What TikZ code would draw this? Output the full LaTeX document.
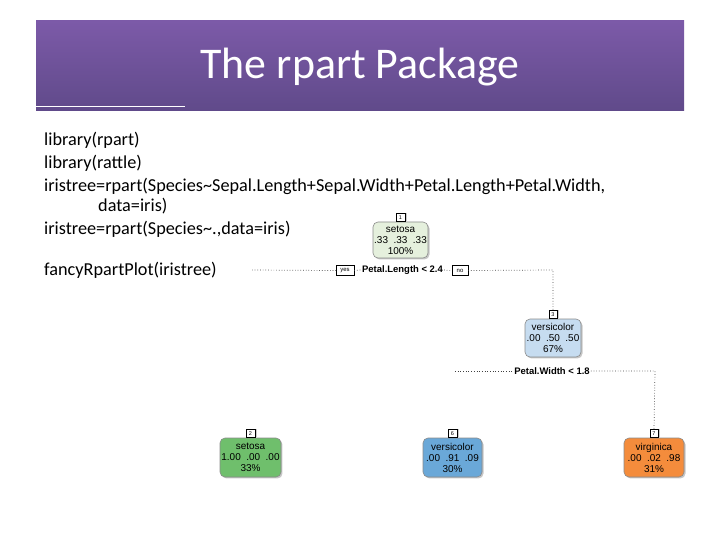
\documentclass[tikz,border=0pt]{standalone}
\usepackage{fontspec}
\setmainfont{Carlito}
\newfontfamily\arialf{Liberation Sans}
\usetikzlibrary{shadows}
\definecolor{titletop}{HTML}{7C5AA8}
\definecolor{titlebot}{HTML}{604A8A}
\definecolor{nonecol}{HTML}{E5F0DD}
\definecolor{nthreecol}{HTML}{C6DCF0}
\definecolor{ntwocol}{HTML}{6FBF6C}
\definecolor{nsixcol}{HTML}{6AA8D8}
\definecolor{nsevencol}{HTML}{F48C3C}
\definecolor{edgegray}{HTML}{8A8A8A}
\tikzset{
  codeline/.style={anchor=base west, inner sep=0pt, font=\fontsize{18.3}{20}\selectfont},
  tnode/.style={draw=edgegray, line width=0.6pt, rounded corners=5pt, align=center,
    inner sep=1pt, font=\arialf\fontsize{10}{11}\selectfont,
    drop shadow={shadow xshift=1.5pt, shadow yshift=-1.5pt, opacity=0.45, fill=gray}},
  numbox/.style={draw=black, fill=white, line width=0.5pt, inner sep=0pt,
    minimum width=8.5bp, minimum height=8.5bp, font=\arialf\fontsize{5.5}{6}\selectfont,
    drop shadow={shadow xshift=2pt, shadow yshift=0pt, opacity=0.4, fill=gray}},
  ynbox/.style={draw=black, fill=white, line width=0.5pt, inner sep=0pt,
    minimum height=10bp, font=\arialf\fontsize{6}{7}\selectfont},
  splitlab/.style={inner sep=1pt, font=\arialf\bfseries\fontsize{9.5}{11}\selectfont},
  branch/.style={draw=black!75, line width=0.7pt, dash pattern=on 0.7pt off 2pt}
}
\begin{document}
\begin{tikzpicture}[x=1bp,y=-1bp]
\useasboundingbox (0,0) rectangle (720,540);
% title banner
\shade[top color=titletop,bottom color=titlebot] (36,21) rectangle (684,111);
\node[text=white, font=\fontsize{44}{48}\selectfont, inner sep=0pt] (title) at (360,67) {The rpart Package};
\coordinate (ulA) at (36,106);
\coordinate (ulB) at (185,106);
\draw[white, line width=0.9pt] (ulA) -- (ulB);
% code text
\node[codeline] (c1) at (44,146) {library(rpart)};
\node[codeline] (c2) at (44,169) {library(rattle)};
\node[codeline] (c3) at (44,192) {iristree=rpart(Species\textasciitilde Sepal.Length+Sepal.Width+Petal.Length+Petal.Width,};
\node[codeline] (c4) at (98,212) {data=iris)};
\node[codeline] (c5) at (44,235) {iristree=rpart(Species\textasciitilde.,data=iris)};
\node[codeline] (c6) at (44,276) {fancyRpartPlot(iristree)};
% tree nodes
\node[tnode, fill=nonecol, minimum width=55bp, minimum height=36bp] (n1) at (400.5,240) {setosa\\.33~~.33~~.33\\100\%};
\node[numbox, anchor=south] (k1) at (n1.north) {1};
\node[tnode, fill=nthreecol, minimum width=56bp, minimum height=38bp] (n3) at (553,338) {versicolor\\.00~~.50~~.50\\67\%};
\node[numbox, anchor=south] (k3) at (n3.north) {3};
\node[tnode, fill=ntwocol, minimum width=61bp, minimum height=39bp] (n2) at (250.5,457.5) {setosa\\1.00~~.00~~.00\\33\%};
\node[numbox, anchor=south] (k2) at (n2.north) {2};
\node[tnode, fill=nsixcol, minimum width=59bp, minimum height=39bp] (n6) at (452.5,457.5) {versicolor\\.00~~.91~~.09\\30\%};
\node[numbox, anchor=south] (k6) at (n6.north) {6};
\node[tnode, fill=nsevencol, minimum width=60bp, minimum height=39bp] (n7) at (654,457.5) {virginica\\.00~~.02~~.98\\31\%};
\node[numbox, anchor=south] (k7) at (n7.north) {7};
% split 1
\node[ynbox, minimum width=18bp] (yes1) at (345,270.5) {yes};
\node[splitlab] (s1) at (402.5,270) {Petal.Length < 2.4};
\node[ynbox, minimum width=16bp] (no1) at (460,270.5) {no};
\coordinate (L1) at (252,270);
\coordinate (R1) at (553,270);
\draw[branch] (L1) -- (yes1.west);
\draw[branch] (yes1.east) -- (s1.west);
\draw[branch] (s1.east) -- (no1.west);
\draw[branch] (no1.east) -- (R1) -- (k3.north);
% split 2
\node[splitlab] (s2) at (552,371) {Petal.Width < 1.8};
\coordinate (L2) at (455,371);
\coordinate (R2) at (655,371);
\draw[branch] (L2) -- (s2.west);
\draw[branch] (s2.east) -- (R2) -- (k7.north);
\end{tikzpicture}
\end{document}
